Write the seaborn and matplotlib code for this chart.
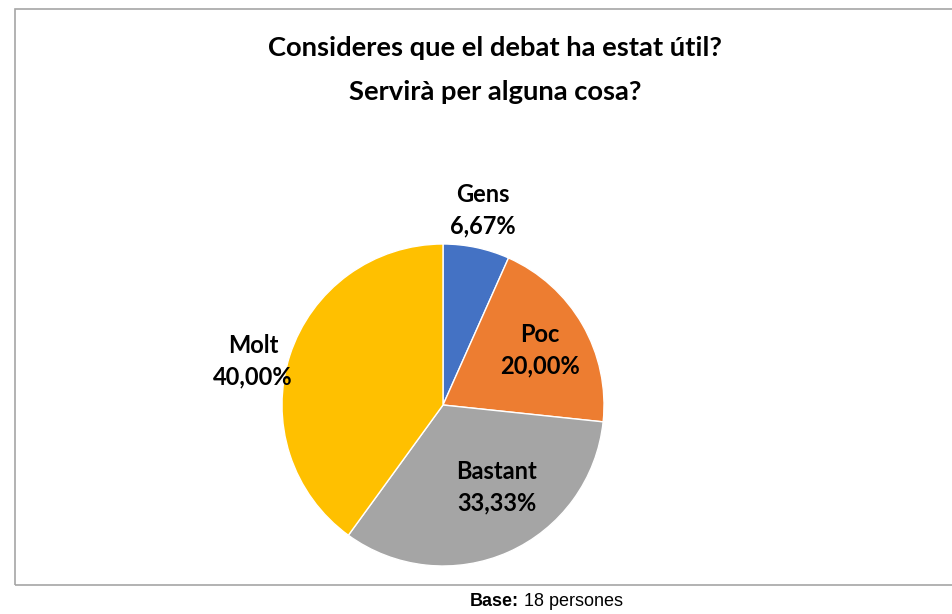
import matplotlib
matplotlib.use("Agg")
import matplotlib.pyplot as plt
import seaborn as sns
from matplotlib.patches import Rectangle

# ---- data ----
categories = ["Gens", "Poc", "Bastant", "Molt"]
percentages = [6.67, 20.00, 33.33, 40.00]
colors = ["#4472C4", "#ED7D31", "#A5A5A5", "#FFC000"]
title_lines = ["Consideres que el debat ha estat útil?", "Servirà per alguna cosa?"]
footer_bold = "Base:"
footer_text = " 18 persones"

# ---- layout (label anchor positions relative to pie radius) ----
label_offsets = [(0.25, 1.21), (0.60, 0.34), (0.335, -0.51), (-1.18, 0.27)]

sns.set_theme(style="white")
plt.rcParams["font.family"] = ["Lato", "DejaVu Sans"]

W, H = 953, 614
fig = plt.figure(figsize=(W / 100, H / 100), dpi=100)
fig.patch.set_facecolor("white")

# chart border
fig.patches.append(Rectangle((15.5 / W, 1 - 585 / H), (970 - 15.5) / W, (585 - 8.5) / H,
                             transform=fig.transFigure, fill=False,
                             edgecolor="#A6A6A6", linewidth=1.2, clip_on=False))

cx, cy, r = 443, 405, 161
ax = fig.add_axes([(cx - r) / W, (H - cy - r) / H, 2 * r / W, 2 * r / H])
wedges, _ = ax.pie(percentages, colors=colors, startangle=90, counterclock=False,
                   radius=1, wedgeprops=dict(edgecolor="white", linewidth=1.0))
ax.set_xlim(-1, 1)
ax.set_ylim(-1, 1)
ax.set_aspect("equal")
ax.axis("off")

for cat, pct, (dx, dy) in zip(categories, percentages, label_offsets):
    txt = f"{cat}\n{pct:.2f}".replace(".", ",") + "%"
    ax.text(dx, dy, txt, ha="center", va="center", fontsize=17,
            fontweight="bold", color="#000000", linespacing=1.45)

# title
fig.text(495 / W, 1 - 48.5 / H, title_lines[0], ha="center", va="center",
         fontsize=19.7, fontweight="bold", color="#000000")
fig.text(495 / W, 1 - 92.5 / H, title_lines[1], ha="center", va="center",
         fontsize=19.7, fontweight="bold", color="#000000")

# footer
t1 = fig.text(470 / W, 1 - 606 / H, footer_bold, ha="left", va="baseline",
              fontsize=13, fontweight="bold", family="Liberation Sans", color="#000000")
ann = plt.Annotation(footer_text, xy=(1, 0), xycoords=t1, va="bottom", ha="left",
                     fontsize=13, family="Liberation Sans", color="#000000")
ann.set_figure(fig)
fig.texts.append(ann)

fig.savefig("out.png", dpi=100, facecolor="white")
